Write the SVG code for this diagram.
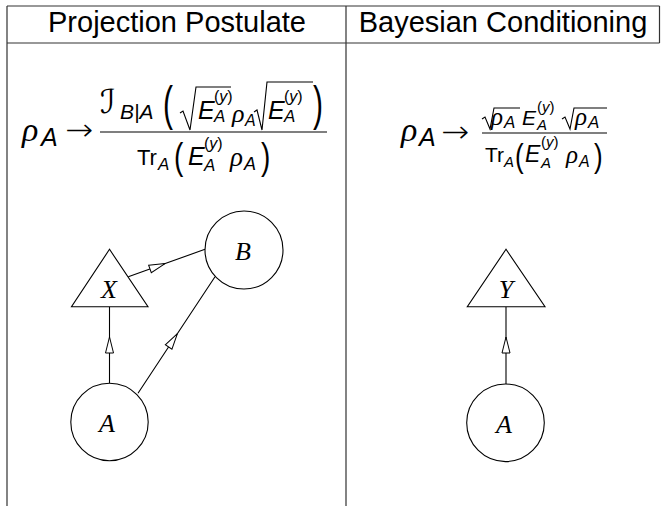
<svg xmlns="http://www.w3.org/2000/svg" width="661" height="506" viewBox="0 0 661 506">
<defs>
<style>
.hdr{font-family:"Liberation Sans",Arial,sans-serif;font-size:29px;text-anchor:middle;fill:#000}
.grid{stroke:#333;stroke-width:1.2;fill:none}
.si{font-family:"Liberation Sans",Arial,sans-serif;font-style:italic;fill:#000}
.su{font-family:"Liberation Sans",Arial,sans-serif;font-style:normal;fill:#000}
.rho{font-family:"Liberation Serif","Times New Roman",serif;font-style:italic;fill:#000}
.cal{font-family:"DejaVu Serif","DejaVu Sans",serif;font-style:normal;fill:#000}
.arr{font-family:"DejaVu Sans",sans-serif;font-weight:200;fill:#000}
.lbl{font-family:"Liberation Serif","Times New Roman",serif;font-style:italic;font-size:26px;text-anchor:middle;fill:#000}
.node{fill:#fff;stroke:#000;stroke-width:1.1}
.edge{fill:none;stroke:#000;stroke-width:1.1;marker-mid:url(#ah)}
.rad{fill:none;stroke:#000;stroke-width:1.1;stroke-linejoin:miter}
.bar{stroke:#000;stroke-width:1.1}
</style>
<marker id="ah" markerUnits="userSpaceOnUse" markerWidth="20" markerHeight="12" refX="9" refY="5" orient="auto" overflow="visible">
<path d="M1,1 L17,5 L1,9 Z" fill="#fff" stroke="#000" stroke-width="1"/>
</marker>
</defs>
<rect width="661" height="506" fill="#fff"/>

<g id="table">
<path class="grid" d="M7,6 H659.5 M7,43 H659.5 M7,6 V506 M346,6 V506 M659.5,6 V43"/>
<text class="hdr" x="177" y="32">Projection Postulate</text>
<text class="hdr" x="503" y="32">Bayesian Conditioning</text>
</g>

<g id="formula-projection">
<text class="rho" x="22" y="141" font-size="34">ρ<tspan class="si" x="41" y="146" font-size="25">A</tspan></text>
<text class="arr" x="65" y="140" font-size="30" textLength="28" lengthAdjust="spacingAndGlyphs">→</text>
<text class="cal" x="100" y="113" font-size="33">ℐ<tspan class="si" x="120" y="119" font-size="21">B|A</tspan></text>
<text class="su" transform="translate(163,120) scale(1,1.6)" font-size="30">(</text>
<polyline class="rad" points="180,113 183,111 190,130 196,87 231,87"/>
<text class="si" x="198" y="119" font-size="25">E<tspan class="su" x="214" y="102" font-size="16">(<tspan class="si">y</tspan>)</tspan><tspan x="214" y="122" font-size="17">A</tspan></text>
<text class="rho" x="232" y="122" font-size="26">ρ<tspan class="si" x="245" y="126" font-size="16">A</tspan></text>
<polyline class="rad" points="254,112 257,110 262,130 267,82 313,82"/>
<text class="si" x="268" y="119" font-size="25">E<tspan class="su" x="284" y="102" font-size="16">(<tspan class="si">y</tspan>)</tspan><tspan x="284" y="122" font-size="17">A</tspan></text>
<text class="su" transform="translate(313,120) scale(1,1.6)" font-size="30">)</text>
<line class="bar" x1="100" y1="132" x2="327" y2="132"/>
<text class="su" x="137" y="165" font-size="22">Tr<tspan class="si" x="158" y="170" font-size="17">A</tspan></text>
<text class="su" transform="translate(174,169) scale(1,1.3)" font-size="28">(</text>
<text class="si" x="188" y="165" font-size="25">E<tspan class="su" x="204" y="149" font-size="16">(<tspan class="si">y</tspan>)</tspan><tspan x="204" y="171" font-size="17">A</tspan></text>
<text class="rho" x="230" y="166" font-size="27">ρ<tspan class="si" x="244" y="170" font-size="18">A</tspan></text>
<text class="su" transform="translate(261,169) scale(1,1.3)" font-size="28">)</text>
</g>

<g id="formula-bayesian">
<text class="rho" x="401" y="141" font-size="34">ρ<tspan class="si" x="419" y="146" font-size="25">A</tspan></text>
<text class="arr" x="441" y="142" font-size="30" textLength="28" lengthAdjust="spacingAndGlyphs">→</text>
<polyline class="rad" points="482,119 485,117 490,129 494,108 520,108"/>
<text class="rho" x="491" y="125" font-size="25">ρ<tspan class="si" x="504" y="128" font-size="17">A</tspan></text>
<text class="si" x="522" y="125" font-size="21">E<tspan class="su" x="537" y="112" font-size="15">(<tspan class="si">y</tspan>)</tspan><tspan x="537" y="130" font-size="15">A</tspan></text>
<polyline class="rad" points="562,119 565,117 570,129 574,108 607,108"/>
<text class="rho" x="575" y="125" font-size="25">ρ<tspan class="si" x="588" y="128" font-size="17">A</tspan></text>
<line class="bar" x1="482" y1="133" x2="607" y2="133"/>
<text class="su" x="485" y="162" font-size="21">Tr<tspan class="si" x="504" y="167" font-size="15">A</tspan></text>
<text class="su" transform="translate(515,167) scale(1,1.3)" font-size="26">(</text>
<text class="si" x="525" y="162" font-size="23">E<tspan class="su" x="541" y="147" font-size="15">(<tspan class="si">y</tspan>)</tspan><tspan x="541" y="168" font-size="15">A</tspan></text>
<text class="rho" x="566" y="163" font-size="25">ρ<tspan class="si" x="579" y="167" font-size="16">A</tspan></text>
<text class="su" transform="translate(594,167) scale(1,1.3)" font-size="26">)</text>
</g>

<g id="connectors">
<polyline class="edge" points="109.5,383.3 109.5,345 109.5,306.7"/>
<polyline class="edge" points="128.3,276.7 157.5,266.3 205,249.3"/>
<polyline class="edge" points="138,393.3 173,340.3 215,276.7"/>
<polyline class="edge" points="506,384 506,345 506,306.7"/>
</g>

<g id="node-X">
<polygon class="node" points="109.5,249.3 71.5,306.7 148,306.7"/>
<text class="lbl" x="109" y="298">X</text>
</g>
<g id="node-B">
<circle class="node" cx="244" cy="250" r="39"/>
<text class="lbl" x="243" y="260">B</text>
</g>
<g id="node-A-left">
<circle class="node" cx="109.5" cy="422" r="38.7"/>
<text class="lbl" x="107" y="432">A</text>
</g>
<g id="node-Y">
<polygon class="node" points="506,249.3 467.3,306.7 545,306.7"/>
<text class="lbl" x="506" y="298">Y</text>
</g>
<g id="node-A-right">
<circle class="node" cx="505.5" cy="422.8" r="38.8"/>
<text class="lbl" x="504" y="433">A</text>
</g>
</svg>
